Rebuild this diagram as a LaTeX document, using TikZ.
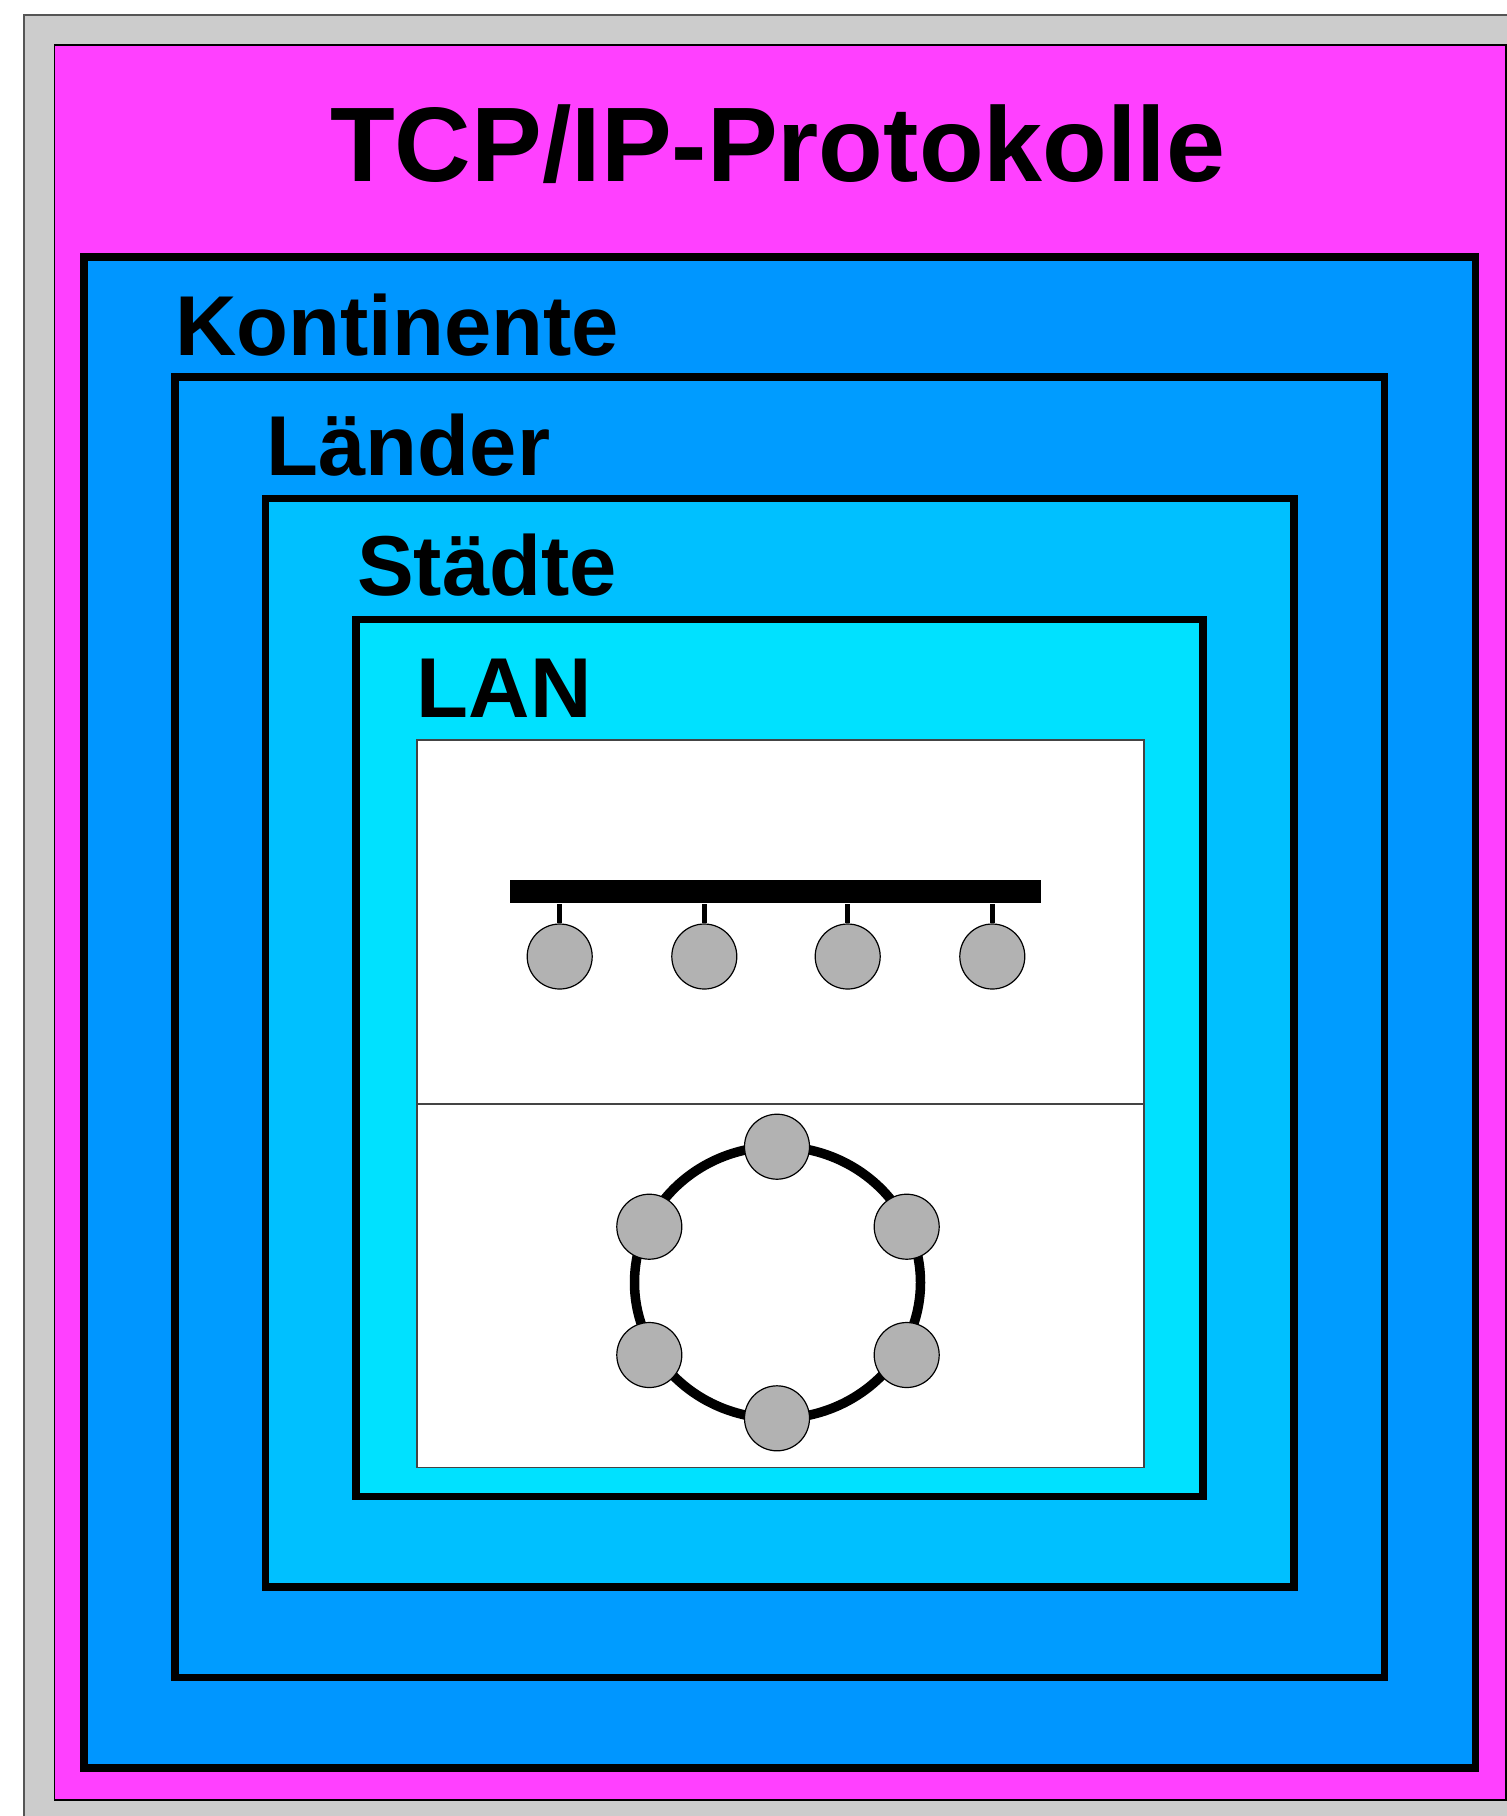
\documentclass[tikz,border=0pt]{standalone}
\usepackage{fontspec}
\setmainfont{Liberation Sans}
\definecolor{bggray}{HTML}{CCCCCC}
\definecolor{edgegray}{HTML}{555555}
\definecolor{magbg}{HTML}{FF40FF}
\definecolor{kont}{HTML}{0096FF}
\definecolor{land}{HTML}{009CFF}
\definecolor{stadt}{HTML}{00C0FF}
\definecolor{lancol}{HTML}{00E1FF}
\definecolor{hostgray}{HTML}{B2B2B2}
\definecolor{panelgray}{HTML}{444444}
\begin{document}
\begin{tikzpicture}[x=1pt,y=-1pt,
  frame/.style={draw=black,line width=7.5pt,line join=miter},
  lbl/.style={anchor=base west,inner sep=0pt,font=\fontsize{85}{90}\selectfont\bfseries},
  host/.style={circle,draw=black,line width=1.2pt,fill=hostgray,minimum size=65pt,inner sep=0pt},
  panel/.style={fill=white,draw=panelgray,line width=1.2pt},
  stub/.style={line width=5.5pt},
  ringline/.style={line width=9.5pt}
]
\useasboundingbox (0,0) rectangle (1507,1816);
\clip (0,0) rectangle (1507,1816);
% background layers
\filldraw[fill=bggray,draw=edgegray,line width=1.5pt] (24,15) rectangle (1540,1850);
\filldraw[fill=magbg,draw=black,line width=1.2pt] (54.5,45) rectangle (1506,1800);
\node[anchor=base,inner sep=0pt,font=\fontsize{106}{110}\selectfont\bfseries] (title) at (777.7,181.7) {TCP/IP-Protokolle};
% nested frames
\filldraw[frame,fill=kont] (84,257) rectangle (1475.5,1768);
\node[lbl] (kontl) at (175,355) {Kontinente};
\filldraw[frame,fill=land] (175,377) rectangle (1384.5,1677.5);
\node[lbl] (landl) at (266.5,475) {Länder};
\filldraw[frame,fill=stadt] (265.5,498.5) rectangle (1294,1587);
\node[lbl] (stadtl) at (357,595) {Städte};
\filldraw[frame,fill=lancol] (356,619.5) rectangle (1203,1496.5);
\node[lbl] (lanl) at (416.6,717.3) {LAN};
% LAN panels
\filldraw[panel] (417,740) rectangle (1144,1104);
\filldraw[panel] (417,1104) rectangle (1144,1467.6);
% bus topology
\node[fill=black,inner sep=0pt,minimum width=531.7pt,minimum height=23.5pt] (bus) at (775.5,891.7) {};
\node[host] (c1) at (559.7,956.5) {};
\node[host] (c2) at (704.3,956.5) {};
\node[host] (c3) at (847.7,956.5) {};
\node[host] (c4) at (992.3,956.5) {};
\foreach \c in {c1,c2,c3,c4}
  \draw[stub] (\c.north) -- (\c.north |- bus.south);
% ring topology
\draw[ringline] (777.5,1282.5) ellipse [x radius=143pt, y radius=136pt];
\node[host] (r1) at (777,1146.7) {};
\node[host] (r2) at (906.7,1226.7) {};
\node[host] (r3) at (906.7,1355) {};
\node[host] (r4) at (777,1418.3) {};
\node[host] (r5) at (649.3,1355) {};
\node[host] (r6) at (649.3,1226.7) {};
\end{tikzpicture}
\end{document}
